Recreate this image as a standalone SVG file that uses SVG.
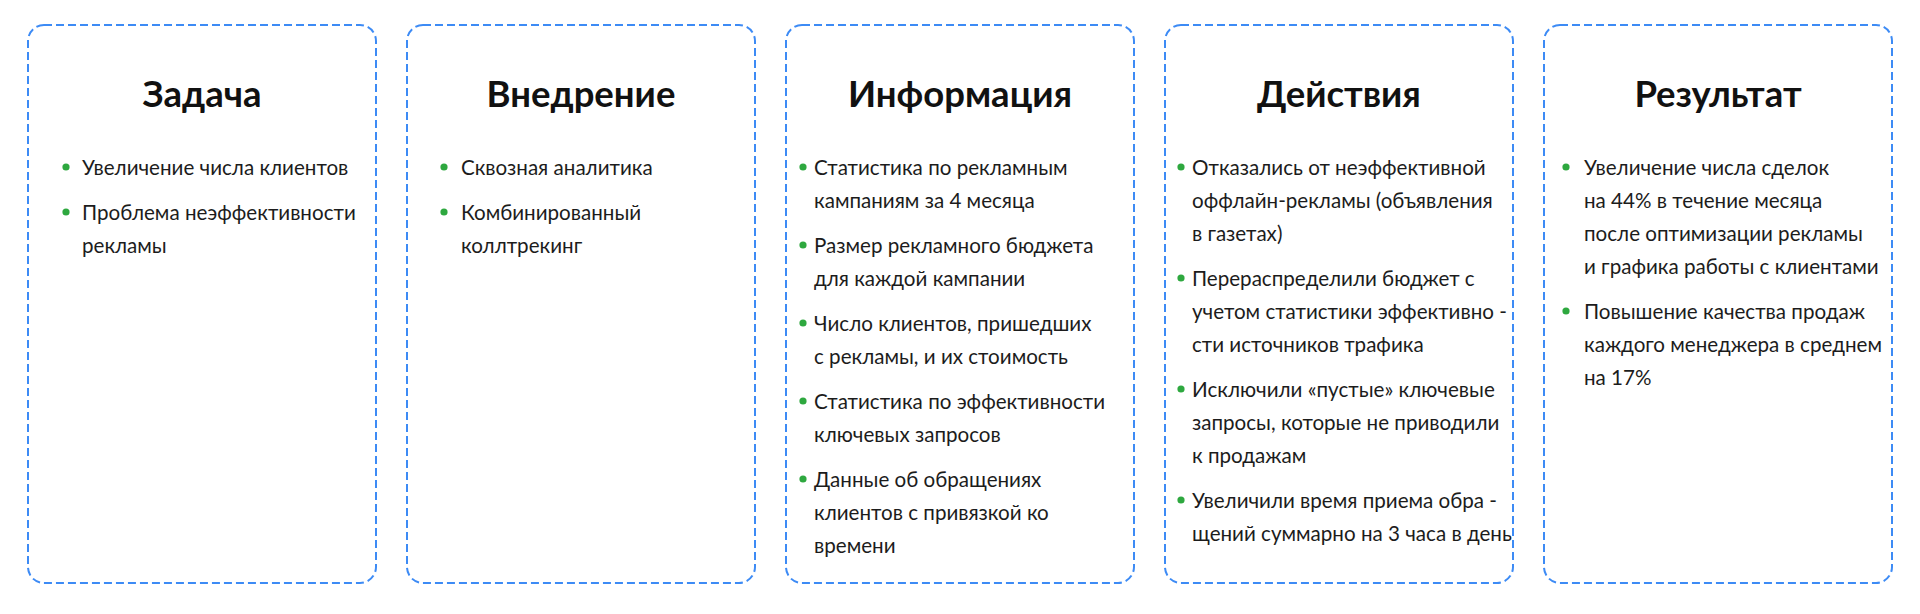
<svg xmlns="http://www.w3.org/2000/svg" width="1920" height="614" viewBox="0 0 1920 614">
<style>
.card{fill:#ffffff;stroke:#3d8bf5;stroke-width:2;stroke-dasharray:8 4}
.title{font-family:Lato,"Noto Sans",sans-serif;font-weight:700;font-size:36.5px;fill:#111111;text-anchor:middle}
.body{font-family:Lato,"Noto Sans",sans-serif;font-size:20.6px;fill:#1c1c1c}
.dot{fill:#2ea83f}
</style>
<rect width="1920" height="614" fill="#ffffff"/>
<g id="zadacha">
<rect class="card" x="28" y="25" width="348" height="558" rx="16"/>
<text class="title" x="202" y="107">Задача</text>
<circle class="dot" cx="66" cy="167" r="3.6"/>
<text class="body" x="82" y="175">Увеличение числа клиентов</text>
<circle class="dot" cx="66" cy="212" r="3.6"/>
<text class="body" x="82" y="220">Проблема неэффективности</text>
<text class="body" x="82" y="253">рекламы</text>
</g>
<g id="vnedrenie">
<rect class="card" x="407" y="25" width="348" height="558" rx="16"/>
<text class="title" x="581" y="107">Внедрение</text>
<circle class="dot" cx="444" cy="167" r="3.6"/>
<text class="body" x="461" y="175">Сквозная аналитика</text>
<circle class="dot" cx="444" cy="212" r="3.6"/>
<text class="body" x="461" y="220">Комбинированный</text>
<text class="body" x="461" y="253">коллтрекинг</text>
</g>
<g id="informaciya">
<rect class="card" x="786" y="25" width="348" height="558" rx="16"/>
<text class="title" x="960" y="107">Информация</text>
<circle class="dot" cx="803" cy="167" r="3.6"/>
<text class="body" x="814" y="175">Статистика по рекламным</text>
<text class="body" x="814" y="208">кампаниям за 4 месяца</text>
<circle class="dot" cx="803" cy="245" r="3.6"/>
<text class="body" x="814" y="253">Размер рекламного бюджета</text>
<text class="body" x="814" y="286">для каждой кампании</text>
<circle class="dot" cx="803" cy="323" r="3.6"/>
<text class="body" x="814" y="331">Число клиентов, пришедших</text>
<text class="body" x="814" y="364">с рекламы, и их стоимость</text>
<circle class="dot" cx="803" cy="401" r="3.6"/>
<text class="body" x="814" y="409">Статистика по эффективности</text>
<text class="body" x="814" y="442">ключевых запросов</text>
<circle class="dot" cx="803" cy="479" r="3.6"/>
<text class="body" x="814" y="487">Данные об обращениях</text>
<text class="body" x="814" y="520">клиентов с привязкой ко</text>
<text class="body" x="814" y="553">времени</text>
</g>
<g id="deystviya">
<rect class="card" x="1165" y="25" width="348" height="558" rx="16"/>
<text class="title" x="1339" y="107">Действия</text>
<circle class="dot" cx="1181" cy="167" r="3.6"/>
<text class="body" x="1192" y="175">Отказались от неэффективной</text>
<text class="body" x="1192" y="208">оффлайн-рекламы (объявления</text>
<text class="body" x="1192" y="241">в газетах)</text>
<circle class="dot" cx="1181" cy="278" r="3.6"/>
<text class="body" x="1192" y="286">Перераспределили бюджет с</text>
<text class="body" x="1192" y="319">учетом статистики эффективно -</text>
<text class="body" x="1192" y="352">сти источников трафика</text>
<circle class="dot" cx="1181" cy="389" r="3.6"/>
<text class="body" x="1192" y="397">Исключили «пустые» ключевые</text>
<text class="body" x="1192" y="430">запросы, которые не приводили</text>
<text class="body" x="1192" y="463">к продажам</text>
<circle class="dot" cx="1181" cy="500" r="3.6"/>
<text class="body" x="1192" y="508">Увеличили время приема обра -</text>
<text class="body" x="1192" y="541">щений суммарно на 3 часа в день</text>
</g>
<g id="rezultat">
<rect class="card" x="1544" y="25" width="348" height="558" rx="16"/>
<text class="title" x="1718" y="107">Результат</text>
<circle class="dot" cx="1566" cy="167" r="3.6"/>
<text class="body" x="1584" y="175">Увеличение числа сделок</text>
<text class="body" x="1584" y="208">на 44% в течение месяца</text>
<text class="body" x="1584" y="241">после оптимизации рекламы</text>
<text class="body" x="1584" y="274">и графика работы с клиентами</text>
<circle class="dot" cx="1566" cy="311" r="3.6"/>
<text class="body" x="1584" y="319">Повышение качества продаж</text>
<text class="body" x="1584" y="352">каждого менеджера в среднем</text>
<text class="body" x="1584" y="385">на 17%</text>
</g>
<g id="connectors"></g>
</svg>
